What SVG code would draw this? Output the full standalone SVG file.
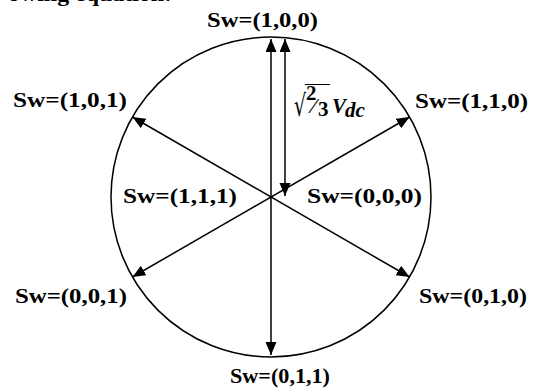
<svg xmlns="http://www.w3.org/2000/svg" width="535" height="391" viewBox="0 0 535 391">
<style>
.lbl{font-family:"Liberation Serif","Times New Roman",serif;font-weight:bold;font-size:21px;fill:#000}
.ln{stroke:#000;stroke-width:1.5;fill:none}
</style>
<defs>
<marker id="ah" markerUnits="userSpaceOnUse" markerWidth="14" markerHeight="12" refX="13" refY="5.5" orient="auto-start-reverse">
<path d="M0,0 L13,5.5 L0,11 z" fill="#000"/>
</marker>
</defs>
<rect width="535" height="391" fill="#fff"/>
<text class="lbl" x="8" y="1" font-size="19" textLength="164" lengthAdjust="spacingAndGlyphs">owing equation:</text>
<circle cx="271" cy="197" r="160" class="ln"/>
<g id="connectors">
<line class="ln" x1="271" y1="39" x2="271" y2="355" marker-start="url(#ah)" marker-end="url(#ah)"/>
<line class="ln" x1="132.4" y1="117" x2="409.6" y2="277" marker-start="url(#ah)" marker-end="url(#ah)"/>
<line class="ln" x1="409.6" y1="117" x2="132.4" y2="277" marker-start="url(#ah)" marker-end="url(#ah)"/>
<line class="ln" x1="285" y1="39" x2="285" y2="196" marker-start="url(#ah)" marker-end="url(#ah)"/>
</g>
<g id="n100"><text class="lbl" x="207" y="27" textLength="111" lengthAdjust="spacingAndGlyphs">Sw=(1,0,0)</text></g>
<g id="n101"><text class="lbl" x="13" y="107" textLength="114" lengthAdjust="spacingAndGlyphs">Sw=(1,0,1)</text></g>
<g id="n110"><text class="lbl" x="415" y="108" textLength="113" lengthAdjust="spacingAndGlyphs">Sw=(1,1,0)</text></g>
<g id="n111"><text class="lbl" x="123" y="203" textLength="114" lengthAdjust="spacingAndGlyphs">Sw=(1,1,1)</text></g>
<g id="n000"><text class="lbl" x="307" y="203" textLength="115" lengthAdjust="spacingAndGlyphs">Sw=(0,0,0)</text></g>
<g id="n001"><text class="lbl" x="15" y="303" textLength="112" lengthAdjust="spacingAndGlyphs">Sw=(0,0,1)</text></g>
<g id="n010"><text class="lbl" x="419" y="303" textLength="108" lengthAdjust="spacingAndGlyphs">Sw=(0,1,0)</text></g>
<g id="n011"><text class="lbl" x="230" y="383" textLength="100" lengthAdjust="spacingAndGlyphs">Sw=(0,1,1)</text></g>
<g id="mag">
<text x="294" y="116" font-family="'DejaVu Serif',serif" font-size="30" fill="#000" textLength="12" lengthAdjust="spacingAndGlyphs">√</text>
<line x1="305" y1="84.5" x2="330" y2="84.5" stroke="#000" stroke-width="1"/>
<text class="lbl" x="306" y="100" font-size="16">2</text>
<text class="lbl" x="312" y="113" font-size="18" font-weight="normal">⁄</text>
<text class="lbl" x="318" y="116" font-size="16">3</text>
<text class="lbl" x="332" y="113" font-size="20" font-style="italic">V</text>
<text class="lbl" x="345" y="117" font-size="12" font-style="italic">dc</text>
</g>
</svg>
